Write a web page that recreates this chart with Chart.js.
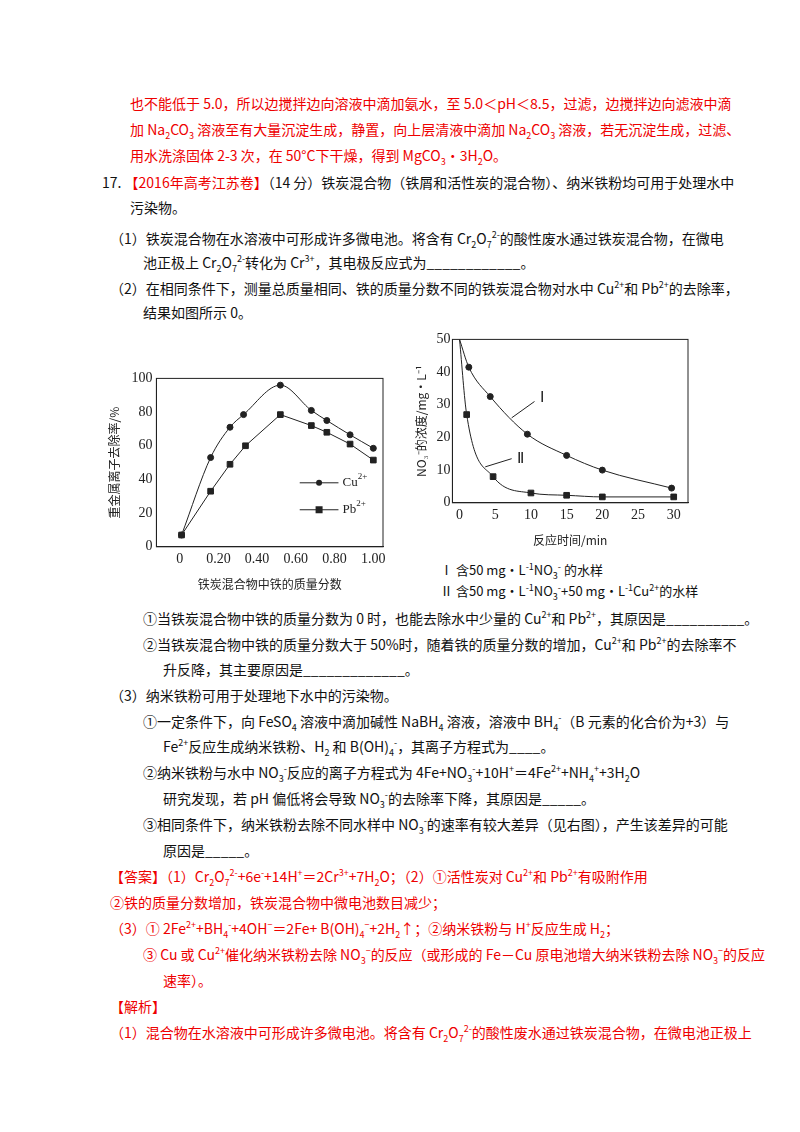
<!DOCTYPE html>
<html><head><meta charset="utf-8">
<script src="https://cdn.jsdelivr.net/npm/chart.js@4"></script>
<style>
body{margin:0;width:800px;height:1132px;background:#fff;font-family:"Noto Sans CJK SC","Noto Sans",serif;font-size:14px;color:#111;position:relative}
.l{position:absolute;white-space:nowrap;line-height:20px}
.r{color:#e00}
sup,sub{font-size:9px;line-height:0}
#c1w{position:absolute;left:105px;top:362px;width:290px;height:232px}
#c2w{position:absolute;left:412px;top:325px;width:290px;height:225px}
</style></head><body>
<div class="l r" style="left:130px;top:93px">也不能低于 5.0，所以边搅拌边向溶液中滴加氨水，至 5.0＜pH＜8.5，过滤，边搅拌边向滤液中滴</div>
<div class="l r" style="left:130px;top:119px">加 Na<sub>2</sub>CO<sub>3</sub> 溶液至有大量沉淀生成，静置，向上层清液中滴加 Na<sub>2</sub>CO<sub>3</sub> 溶液，若无沉淀生成，过滤、</div>
<div class="l r" style="left:130px;top:145px">用水洗涤固体 2-3 次，在 50°C下干燥，得到 MgCO<sub>3</sub>·3H<sub>2</sub>O。</div>
<div class="l" style="left:102px;top:172px">17. <span class="r">【2016年高考江苏卷】</span>（14 分）铁炭混合物（铁屑和活性炭的混合物）、纳米铁粉均可用于处理水中</div>
<div class="l" style="left:130px;top:197px">污染物。</div>
<div class="l" style="left:110px;top:228px">（1）铁炭混合物在水溶液中可形成许多微电池。将含有 Cr<sub>2</sub>O<sub>7</sub><sup>2-</sup>的酸性废水通过铁炭混合物，在微电</div>
<div class="l" style="left:143px;top:252px">池正极上 Cr<sub>2</sub>O<sub>7</sub><sup>2-</sup>转化为 Cr<sup>3+</sup>，其电极反应式为____________。</div>
<div class="l" style="left:110px;top:278px">（2）在相同条件下，测量总质量相同、铁的质量分数不同的铁炭混合物对水中 Cu<sup>2+</sup>和 Pb<sup>2+</sup>的去除率，</div>
<div class="l" style="left:143px;top:302px">结果如图所示 0。</div>
<div id="c1w"><canvas id="c1"></canvas></div>
<div id="c2w"><canvas id="c2"></canvas></div>
<div class="l" style="left:440px;top:560px;font-size:13px">Ⅰ 含50 mg·L<sup>-1</sup>NO<sub>3</sub><sup>-</sup> 的水样</div>
<div class="l" style="left:440px;top:581px;font-size:13px">Ⅱ 含50 mg·L<sup>-1</sup>NO<sub>3</sub><sup>-</sup>+50 mg·L<sup>-1</sup>Cu<sup>2+</sup>的水样</div>
<div class="l" style="left:143px;top:608px">①当铁炭混合物中铁的质量分数为 0 时，也能去除水中少量的 Cu<sup>2+</sup>和 Pb<sup>2+</sup>，其原因是__________。</div>
<div class="l" style="left:143px;top:634px">②当铁炭混合物中铁的质量分数大于 50%时，随着铁的质量分数的增加，Cu<sup>2+</sup>和 Pb<sup>2+</sup>的去除率不</div>
<div class="l" style="left:163px;top:659px">升反降，其主要原因是_____________。</div>
<div class="l" style="left:110px;top:685px">（3）纳米铁粉可用于处理地下水中的污染物。</div>
<div class="l" style="left:143px;top:711px">①一定条件下，向 FeSO<sub>4</sub> 溶液中滴加碱性 NaBH<sub>4</sub> 溶液，溶液中 BH<sub>4</sub><sup>-</sup>（B 元素的化合价为+3）与</div>
<div class="l" style="left:163px;top:736px">Fe<sup>2+</sup>反应生成纳米铁粉、H<sub>2</sub> 和 B(OH)<sub>4</sub><sup>-</sup>，其离子方程式为____。</div>
<div class="l" style="left:143px;top:762px">②纳米铁粉与水中 NO<sub>3</sub><sup>-</sup>反应的离子方程式为 4Fe+NO<sub>3</sub><sup>-</sup>+10H<sup>+</sup>＝4Fe<sup>2+</sup>+NH<sub>4</sub><sup>+</sup>+3H<sub>2</sub>O</div>
<div class="l" style="left:163px;top:788px">研究发现，若 pH 偏低将会导致 NO<sub>3</sub><sup>-</sup>的去除率下降，其原因是_____。</div>
<div class="l" style="left:143px;top:814px">③相同条件下，纳米铁粉去除不同水样中 NO<sub>3</sub><sup>-</sup>的速率有较大差异（见右图），产生该差异的可能</div>
<div class="l" style="left:163px;top:840px">原因是_____。</div>
<div class="l r" style="left:110px;top:866px">【答案】（1）Cr<sub>2</sub>O<sub>7</sub><sup>2-</sup>+6e<sup>-</sup>+14H<sup>+</sup>＝2Cr<sup>3+</sup>+7H<sub>2</sub>O；（2）①活性炭对 Cu<sup>2+</sup>和 Pb<sup>2+</sup>有吸附作用</div>
<div class="l r" style="left:110px;top:892px">②铁的质量分数增加，铁炭混合物中微电池数目减少；</div>
<div class="l r" style="left:110px;top:918px">（3）① 2Fe<sup>2+</sup>+BH<sub>4</sub><sup>-</sup>+4OH<sup>−</sup>＝2Fe+ B(OH)<sub>4</sub><sup>−</sup>+2H<sub>2</sub>↑；②纳米铁粉与 H<sup>+</sup>反应生成 H<sub>2</sub>；</div>
<div class="l r" style="left:143px;top:944px">③ Cu 或 Cu<sup>2+</sup>催化纳米铁粉去除 NO<sub>3</sub><sup>−</sup>的反应（或形成的 Fe－Cu 原电池增大纳米铁粉去除 NO<sub>3</sub><sup>−</sup>的反应</div>
<div class="l r" style="left:163px;top:970px">速率）。</div>
<div class="l r" style="left:110px;top:996px">【解析】</div>
<div class="l r" style="left:110px;top:1022px">（1）混合物在水溶液中可形成许多微电池。将含有 Cr<sub>2</sub>O<sub>7</sub><sup>2-</sup>的酸性废水通过铁炭混合物，在微电池正极上</div>
<script>
// chart 1: removal rate vs iron fraction
const cuX = [0.01, 0.16, 0.26, 0.33, 0.52, 0.68, 0.76, 0.88, 1.0];
const cuY = [7, 53, 71, 78.5, 96, 81, 75, 66.5, 58.5];
const pbX = [0.01, 0.16, 0.26, 0.34, 0.52, 0.68, 0.76, 0.88, 1.0];
const pbY = [7, 33, 49, 60, 78.5, 72, 68, 61, 51.5];
const fracTicks = [0, 0.2, 0.4, 0.6, 0.8, 1.0];
// chart 2: nitrate concentration vs time
const t1 = [0, 1.3, 4.3, 9.5, 15, 20, 29.7];
const c1 = [50, 41.5, 32.5, 21, 14.5, 10, 4.5];
const t2 = [0, 1, 4.7, 10, 15, 20, 30];
const c2 = [50, 27, 8, 3, 2.3, 1.8, 1.8];
const timeTicks = [0, 5, 10, 15, 20, 25, 30];

const toPts = (xs, ys) => xs.map((x, i) => ({ x: x, y: ys[i] }));
const ink = '#222';
const tickFont = { family: 'Liberation Serif', size: 14 };
const cjk = { family: 'Noto Sans CJK SC', size: 12 };

// box frame plus per-chart annotations
const framePlugin = (notes) => ({
    id: 'frame',
    afterDraw: (chart) => {
        const a = chart.chartArea, ctx = chart.ctx;
        ctx.save();
        ctx.strokeStyle = ink;
        ctx.lineWidth = 1;
        ctx.strokeRect(a.left, a.top, a.right - a.left, a.bottom - a.top);
        notes(chart, ctx);
        ctx.restore();
    }
});

const axis = (min, max, title, extra) => Object.assign({
    type: 'linear', min: min, max: max,
    grid: { display: false, drawTicks: true, tickLength: -4, color: ink },
    border: { color: ink },
    ticks: { color: ink, font: tickFont, padding: 8 },
    title: { display: true, text: title, color: ink, font: cjk, padding: 2 }
}, extra);

const legend1 = (chart, ctx) => {
    const x = chart.scales.x, y = chart.scales.y;
    const x0 = x.getPixelForValue(0.62), x1 = x.getPixelForValue(0.82);
    [[38, 'circle', 'Cu'], [22, 'rect', 'Pb']].forEach(([v, st, lab]) => {
        const py = y.getPixelForValue(v), mx = (x0 + x1) / 2;
        ctx.beginPath(); ctx.moveTo(x0, py); ctx.lineTo(x1, py); ctx.stroke();
        ctx.fillStyle = ink;
        if (st === 'circle') { ctx.beginPath(); ctx.arc(mx, py, 3, 0, 7); ctx.fill(); }
        else ctx.fillRect(mx - 3.5, py - 3.5, 7, 7);
        ctx.font = '13px Liberation Serif';
        ctx.textBaseline = 'middle';
        ctx.fillText(lab, x1 + 4, py);
        const w = ctx.measureText(lab).width;
        ctx.font = '9px Liberation Serif';
        ctx.fillText('2+', x1 + 4 + w, py - 6);
    });
};

const labels2 = (chart, ctx) => {
    const x = chart.scales.x, y = chart.scales.y;
    const seg = (ax, ay, bx, by) => { ctx.beginPath(); ctx.moveTo(x.getPixelForValue(ax), y.getPixelForValue(ay)); ctx.lineTo(x.getPixelForValue(bx), y.getPixelForValue(by)); ctx.stroke(); };
    seg(7.3, 26, 10.5, 31); seg(3.6, 11, 7.3, 13.5);
    ctx.fillStyle = ink; ctx.font = '15px Liberation Serif'; ctx.textBaseline = 'middle';
    ctx.fillText('Ⅰ', x.getPixelForValue(11.2), y.getPixelForValue(32));
    ctx.fillText('Ⅱ', x.getPixelForValue(8), y.getPixelForValue(13.5));
};

new Chart(document.getElementById('c1'), {
    type: 'scatter',
    data: {
        datasets: [
            { data: toPts(cuX, cuY), showLine: true, cubicInterpolationMode: 'monotone', borderColor: ink, backgroundColor: ink, borderWidth: 1, pointStyle: 'circle', pointRadius: 3 },
            { data: toPts(pbX, pbY), showLine: true, tension: 0, borderColor: ink, backgroundColor: ink, borderWidth: 1, pointStyle: 'rect', pointRadius: 4 }
        ]
    },
    options: {
        responsive: true, maintainAspectRatio: false, animation: false,
        layout: { padding: { right: 12, top: 10 } },
        scales: {
            x: axis(-0.12, 1.05, '铁炭混合物中铁的质量分数', {
                afterBuildTicks: (s) => { s.ticks = fracTicks.map(v => ({ value: v })); },
                ticks: { color: ink, font: tickFont, padding: 8, callback: (v) => v === 0 ? '0' : v.toFixed(2) }
            }),
            y: axis(0, 100, '重金属离子去除率/%', { ticks: { color: ink, font: tickFont, padding: 8, stepSize: 20 } })
        },
        plugins: { legend: { display: false }, tooltip: { enabled: false } }
    },
    plugins: [framePlugin(legend1)]
});

new Chart(document.getElementById('c2'), {
    type: 'scatter',
    data: {
        datasets: [
            { data: toPts(t1, c1), showLine: true, cubicInterpolationMode: 'monotone', borderColor: ink, backgroundColor: ink, borderWidth: 1, pointStyle: 'circle', pointRadius: t1.map((v, i) => i === 0 ? 0 : 3) },
            { data: toPts(t2, c2), showLine: true, cubicInterpolationMode: 'monotone', borderColor: ink, backgroundColor: ink, borderWidth: 1, pointStyle: 'rect', pointRadius: t2.map((v, i) => i === 0 ? 0 : 4) }
        ]
    },
    options: {
        responsive: true, maintainAspectRatio: false, animation: false,
        layout: { padding: { right: 14, top: 6 } },
        scales: {
            x: axis(-1, 32, '反应时间/min', {
                afterBuildTicks: (s) => { s.ticks = timeTicks.map(v => ({ value: v })); },
                ticks: { color: ink, font: tickFont, padding: 8 }
            }),
            y: axis(0, 50, 'NO₃⁻的浓度/mg·L⁻¹', { ticks: { color: ink, font: tickFont, padding: 6, stepSize: 10 } })
        },
        plugins: { legend: { display: false }, tooltip: { enabled: false } }
    },
    plugins: [framePlugin(labels2)]
});
</script>
</body></html>
